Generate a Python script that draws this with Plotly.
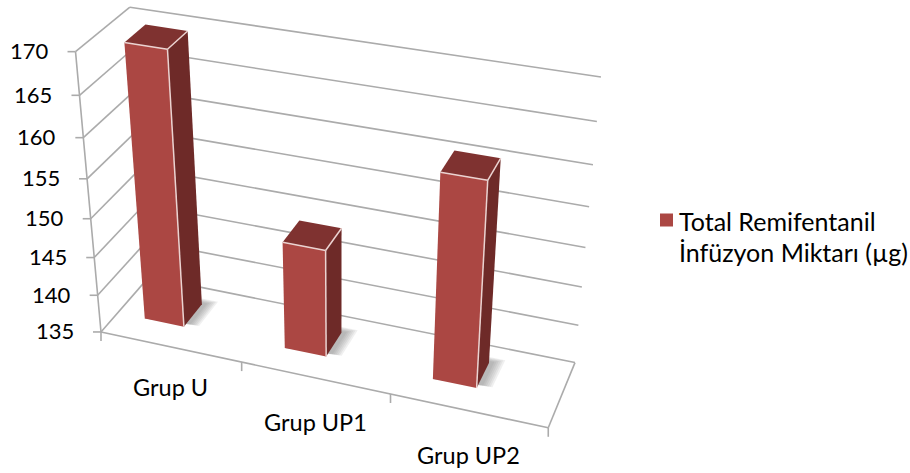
import numpy as np
import plotly.graph_objects as go

categories = ["Grup U", "Grup UP1", "Grup UP2"]
values = [169.8, 148.9, 160.8]
series_lines = ["Total Remifentanil", "İnfüzyon Miktarı (µg)"]
z_ticks = [135, 140, 145, 150, 155, 160, 165, 170]

W, H = 910, 473

# Model space: x = category position (0-3), y = depth (0-1), z = axis value.
# These pairs tie the chart box to the canvas and define its perspective.
frame_model = [(0,0,135),(3,0,135),(3,1,135),(0,1,135),(1,0,135),(2,0,135),
               (0,0,170),(0,0,165),(0,0,160),(0,0,155),(0,0,145),(0,0,140),
               (0,1,170),(3,1,170),(3,1,165),(3,1,160),(3,1,155),(3,1,145),(3,1,140)]
frame_screen = [(100,331),(548,426),(575,362),(150,277),(241,366),(390,396),
                (76,52),(80,95),(83.5,137),(87,178),(95,257),(98.3,294),
                (128,8),(602,77),(597,122),(593,165),(588,207),(582,286),(579,325)]


def solve_camera(model, screen):
    rows, rhs = [], []
    for (x, y, v), (u, w) in zip(model, screen):
        z = (v - 135) / 35
        rows.append([x, y, z, 1, 0, 0, 0, 0, -u*x, -u*y, -u*z]); rhs.append(u)
        rows.append([0, 0, 0, 0, x, y, z, 1, -w*x, -w*y, -w*z]); rhs.append(w)
    sol = np.linalg.lstsq(np.array(rows, float), np.array(rhs, float), rcond=None)[0]
    return np.append(sol, 1.0).reshape(3, 4)


CAM = solve_camera(frame_model, frame_screen)


def proj(x, y, v):
    h = CAM @ np.array([x, y, (v - 135) / 35, 1.0])
    return h[0] / h[2], h[1] / h[2]


BAR_OFFSET, BAR_W, BAR_Y0, BAR_Y1 = 0.20, 0.285, 0.335, 0.735
GRID = "#ABABAB"
FRONT, SIDE, TOP, EDGE = "#AB4743", "#6E2A28", "#7F3230", "#EBD3D1"
fig = go.Figure()


def poly(pts, color):
    xs = [p[0] for p in pts] + [pts[0][0]]
    ys = [p[1] for p in pts] + [pts[0][1]]
    fig.add_trace(go.Scatter(x=xs, y=ys, mode="lines", fill="toself", fillcolor=color,
                             line=dict(width=0), hoverinfo="skip", showlegend=False))


def seg(a, b, color=GRID, width=1.6):
    fig.add_trace(go.Scatter(x=[a[0], b[0]], y=[a[1], b[1]], mode="lines",
                             line=dict(color=color, width=width), hoverinfo="skip", showlegend=False))


# Walls, axis line and floor outline
for v in z_ticks:
    seg(proj(0, 0, v), proj(0, 1, v))
    seg(proj(0, 1, v), proj(3, 1, v))
    fx, fy = proj(0, 0, v)
    seg((fx - 8, fy), (fx, fy))
seg(proj(0, 0, 135), proj(0, 0, 170))
seg(proj(0, 0, 135), proj(3, 0, 135))
seg(proj(3, 0, 135), proj(3, 1, 135))
for i in range(4):
    fx, fy = proj(i, 0, 135)
    seg((fx, fy), (fx, fy + 9))

# Bars with a soft floor shadow behind them
for i, v in enumerate(values):
    x0 = i + BAR_OFFSET
    x1 = x0 + BAR_W
    y0, y1 = BAR_Y0, BAR_Y1
    for k in range(6):
        g = 0.09 - 0.012 * k
        poly([proj(x1 - 0.03, y0 + 0.04, 135), proj(x1 + g, y0 + 0.06, 135), proj(x1 + g, y1 + g, 135),
              proj(x0, y1 + g, 135), proj(x0 - g * 0.4, y1 - 0.02, 135), proj(x0, y0, 135)],
             "rgba(110,110,110,0.10)")
    poly([proj(x0, y0, 135), proj(x1, y0, 135), proj(x1, y0, v), proj(x0, y0, v)], FRONT)
    poly([proj(x1, y0, 135), proj(x1, y1, 135), proj(x1, y1, v), proj(x1, y0, v)], SIDE)
    poly([proj(x0, y0, v), proj(x1, y0, v), proj(x1, y1, v), proj(x0, y1, v)], TOP)
    seg(proj(x0, y0, v), proj(x1, y0, v), EDGE, 1.5)
    seg(proj(x1, y0, 135), proj(x1, y0, v), EDGE, 1.5)
    seg(proj(x1, y0, v), proj(x1, y1, v), EDGE, 1.5)

ann = []
for v in z_ticks:
    fx, fy = proj(0, 0, v)
    ann.append(dict(x=fx - 25, y=fy - 1, text=str(v), xanchor="right", yanchor="middle", xref="x", yref="y",
                    showarrow=False, font=dict(family="Lato", size=22, color="#000000")))
for i, (c, drop) in enumerate(zip(categories, [40, 44, 44])):
    fx, fy = proj(i + 0.5, 0, 135)
    ann.append(dict(x=fx, y=fy + drop, text=c, xanchor="center", yanchor="middle", xref="x", yref="y",
                    showarrow=False, font=dict(family="Lato", size=23.5, color="#000000")))
for line, ly in zip(series_lines, [221, 252]):
    ann.append(dict(x=677, y=ly, text=line, xanchor="left", yanchor="middle", xref="x", yref="y",
                    showarrow=False, font=dict(family="Lato", size=25, color="#000000")))

fig.add_trace(go.Scatter(x=[666.5], y=[220], mode="markers",
                         marker=dict(symbol="square", size=13, color=FRONT), hoverinfo="skip", showlegend=False))
fig.update_layout(width=W, height=H, margin=dict(l=0, r=0, t=0, b=0), paper_bgcolor="white", plot_bgcolor="white",
                  showlegend=False, annotations=ann,
                  xaxis=dict(range=[0, W], visible=False), yaxis=dict(range=[H, 0], visible=False))
fig.write_html("out.html")
